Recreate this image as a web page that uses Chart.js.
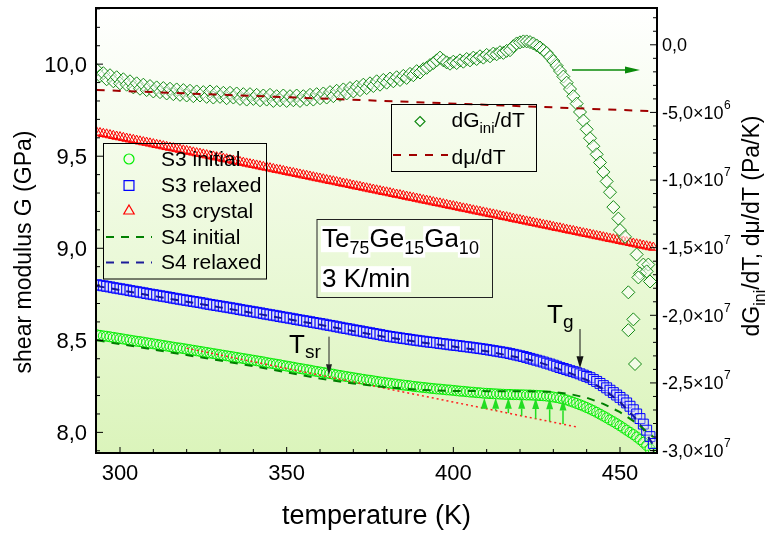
<!DOCTYPE html>
<html><head><meta charset="utf-8">
<script src="https://cdn.jsdelivr.net/npm/chart.js@4.4.0/dist/chart.umd.min.js"></script>
<style>html,body{margin:0;padding:0;background:#fff}canvas{display:block}</style>
</head><body>
<canvas id="c" width="770" height="533"></canvas>
<script>
// ---------------- data ----------------
const temperature = [293,294,295,296,297,298,299,300,
301,302,303,304,305,306,307,308,309,310,311,312,313,314,315,316,317,318,319,320,
321,322,323,324,325,326,327,328,329,330,331,332,333,334,335,336,337,338,339,340,
341,342,343,344,345,346,347,348,349,350,351,352,353,354,355,356,357,358,359,360,
361,362,363,364,365,366,367,368,369,370,371,372,373,374,375,376,377,378,379,380,
381,382,383,384,385,386,387,388,389,390,391,392,393,394,395,396,397,398,399,400,
401,402,403,404,405,406,407,408,409,410,411,412,413,414,415,416,417,418,419,420,
421,422,423,424,425,426,427,428,429,430,431,432,433,434,435,436,437,438,439,440,
441,442,443,444,445,446,447,448,449,450,451,452,453,454,455,456,457,458,459,460];

const s3Initial = [8.530,8.527,8.524,8.522,8.519,8.516,8.513,8.510,
8.507,8.504,8.501,8.498,8.495,8.493,8.490,8.487,8.484,8.481,
8.478,8.475,8.472,8.469,8.466,8.463,8.460,8.458,8.455,8.452,
8.449,8.446,8.443,8.440,8.437,8.434,8.431,8.428,8.425,8.422,
8.419,8.416,8.413,8.410,8.407,8.404,8.401,8.398,8.395,8.392,
8.389,8.386,8.383,8.379,8.376,8.373,8.370,8.367,8.363,8.360,
8.357,8.354,8.350,8.347,8.344,8.341,8.338,8.334,8.331,8.328,
8.325,8.322,8.319,8.316,8.312,8.309,8.306,8.303,8.300,8.297,
8.294,8.291,8.288,8.285,8.283,8.280,8.277,8.274,8.272,8.269,
8.267,8.264,8.262,8.259,8.257,8.255,8.253,8.250,8.248,8.246,
8.244,8.242,8.240,8.238,8.236,8.235,8.233,8.231,8.230,8.228,
8.226,8.224,8.223,8.221,8.219,8.218,8.216,8.215,8.213,8.212,
8.211,8.210,8.209,8.208,8.207,8.206,8.206,8.205,8.205,8.204,
8.204,8.203,8.203,8.202,8.201,8.200,8.199,8.197,8.195,8.192,
8.189,8.185,8.181,8.176,8.170,8.164,8.157,8.150,8.143,8.135,
8.127,8.118,8.109,8.099,8.089,8.079,8.068,8.058,8.047,8.036,
8.024,8.012,8.000,7.988,7.975,7.961,7.946,7.929,7.910,7.889];

const s3Relaxed = [8.802,8.799,8.796,8.793,8.790,8.786,8.783,8.780,
8.777,8.774,8.770,8.767,8.764,8.761,8.758,8.754,8.751,8.748,
8.745,8.742,8.739,8.736,8.733,8.729,8.726,8.723,8.720,8.717,
8.714,8.711,8.708,8.705,8.702,8.698,8.695,8.692,8.689,8.686,
8.683,8.680,8.677,8.674,8.671,8.667,8.664,8.661,8.658,8.655,
8.652,8.649,8.645,8.642,8.639,8.636,8.633,8.629,8.626,8.623,
8.620,8.617,8.613,8.610,8.607,8.604,8.601,8.597,8.594,8.591,
8.588,8.584,8.581,8.578,8.574,8.571,8.567,8.564,8.561,8.557,
8.554,8.551,8.547,8.544,8.541,8.537,8.534,8.531,8.527,8.524,
8.521,8.518,8.516,8.513,8.510,8.508,8.505,8.502,8.500,8.497,
8.495,8.492,8.490,8.488,8.486,8.483,8.481,8.479,8.476,8.474,
8.472,8.470,8.467,8.465,8.463,8.460,8.458,8.455,8.453,8.450,
8.447,8.444,8.441,8.438,8.435,8.432,8.428,8.424,8.420,8.416,
8.412,8.407,8.402,8.397,8.392,8.387,8.382,8.376,8.371,8.365,
8.359,8.352,8.347,8.341,8.335,8.330,8.324,8.318,8.311,8.304,
8.297,8.287,8.277,8.266,8.254,8.242,8.229,8.216,8.203,8.190,
8.176,8.160,8.142,8.123,8.100,8.075,8.045,8.012,7.977,7.940];

const s3Crystal = [9.630,9.626,9.622,9.619,9.615,9.611,9.607,9.604,
9.600,9.596,9.592,9.589,9.585,9.581,9.577,9.574,9.570,9.566,
9.562,9.559,9.555,9.551,9.547,9.544,9.540,9.536,9.532,9.529,
9.525,9.521,9.517,9.514,9.510,9.506,9.502,9.499,9.495,9.491,
9.487,9.484,9.480,9.476,9.472,9.469,9.465,9.461,9.457,9.454,
9.450,9.446,9.442,9.439,9.435,9.431,9.427,9.424,9.420,9.416,
9.412,9.409,9.405,9.401,9.397,9.394,9.390,9.386,9.382,9.379,
9.375,9.371,9.367,9.364,9.360,9.356,9.352,9.349,9.345,9.341,
9.337,9.334,9.330,9.326,9.322,9.319,9.315,9.311,9.307,9.304,
9.300,9.296,9.292,9.289,9.285,9.281,9.277,9.274,9.270,9.266,
9.262,9.259,9.255,9.251,9.247,9.244,9.240,9.236,9.232,9.229,
9.225,9.221,9.217,9.214,9.210,9.206,9.202,9.199,9.195,9.191,
9.187,9.184,9.180,9.176,9.172,9.169,9.165,9.161,9.157,9.154,
9.150,9.146,9.142,9.139,9.135,9.131,9.127,9.124,9.120,9.116,
9.112,9.109,9.105,9.101,9.097,9.094,9.090,9.086,9.082,9.079,
9.075,9.071,9.067,9.064,9.060,9.056,9.052,9.049,9.045,9.041,
9.037,9.034,9.030,9.026,9.022,9.019,9.015,9.011,9.007,9.004];

const s4InitTemp = [293,300,310,320,330,340,346,350,360,370,380,390,400,410,420,430,435,440,445,450,455,460];
const s4Initial  = [8.500,8.480,8.450,8.420,8.390,8.360,8.340,8.326,8.292,8.266,8.245,8.231,8.225,8.224,8.224,8.220,8.208,8.188,8.155,8.110,8.050,7.975];

const s4RelTemp = [293,300,310,320,330,340,350,360,370,380,390,400,410,420,425,430,435,440,445,450,455,458,460];
const s4Relaxed = [8.795,8.773,8.741,8.710,8.679,8.648,8.616,8.584,8.550,8.517,8.490,8.466,8.441,8.405,8.385,8.355,8.322,8.285,8.235,8.165,8.070,7.990,7.930];

const fitTemp = [320, 437.4];
const fitG    = [8.457, 8.028];

// dG_ini/dT in units of 10^6 Pa/K
const dgTemp = [293,294,295,296,297,298,299,300,301,302,303,304,305,306,307,308,309,310,
311,312,313,314,315,316,317,318,319,320,321,322,323,324,325,326,327,328,329,330,
331,332,333,334,335,336,337,338,339,340,341,342,343,344,345,346,347,348,349,350,
351,352,353,354,355,356,357,358,359,360,361,362,363,364,365,366,367,368,369,370,
371,372,373,374,375,376,377,378,379,380,381,382,383,384,385,386,387,388,389,390,
391,392,393,394,395,396,397,398,399,400,401,402,403,404,405,406,407,408,409,410,
411,412,413,414,415,416,417,418,419,420,421,422,423,424,425,426,427,428,429,430,
431,432,433,434,435,436,437,438,439,440,441,442,443,444,445,446,447,448,449.5,450,
451.5,455,457,458.5,456,458,459,455.5,452.5,454,452.5,454.5];
const dgValue = [-1.85,-2.30,-2.10,-2.55,-2.25,-2.70,-2.40,-2.85,-2.55,-2.95,-2.70,-3.15,-2.85,-3.25,-2.95,-3.35,-3.05,-3.45,
-3.15,-3.50,-3.20,-3.60,-3.25,-3.65,-3.30,-3.70,-3.35,-3.75,-3.40,-3.80,-3.45,-3.75,-3.50,-3.85,-3.45,-3.90,-3.50,-3.85,
-3.55,-3.95,-3.55,-3.90,-3.60,-4.00,-3.65,-4.05,-3.65,-4.00,-3.70,-4.10,-3.75,-4.05,-3.70,-4.15,-3.80,-4.10,-3.75,-4.15,
-3.80,-4.10,-3.75,-4.15,-3.80,-4.05,-3.70,-4.05,-3.65,-3.95,-3.60,-3.90,-3.50,-3.80,-3.40,-3.70,-3.30,-3.60,-3.20,-3.45,
-3.10,-3.35,-2.95,-3.20,-2.85,-3.05,-2.70,-2.95,-2.60,-2.80,-2.50,-2.70,-2.40,-2.60,-2.30,-2.45,-2.15,-2.25,-1.95,-2.05,
-1.80,-1.70,-1.50,-1.35,-1.15,-0.95,-1.15,-1.30,-1.40,-1.25,-1.35,-1.15,-1.25,-1.05,-1.15,-0.95,-1.05,-0.85,-0.95,-0.75,
-0.85,-0.65,-0.70,-0.55,-0.60,-0.45,-0.40,-0.10,0.10,0.18,0.25,0.25,0.20,0.10,-0.05,-0.20,-0.40,-0.60,-0.90,-1.20,
-1.55,-1.94,-2.35,-2.80,-3.27,-3.80,-4.35,-4.97,-5.60,-6.25,-6.91,-7.50,-8.10,-8.70,-9.40,-10.10,-10.90,-12.00,-12.85,-13.70,
-14.20,-15.50,-16.25,-16.25,-16.90,-16.75,-17.50,-17.20,-18.30,-20.30,-21.10,-23.60];

// dmu/dT in units of 10^6 Pa/K
const dmuTemp  = [293, 461];
const dmuValue = [-3.34, -4.92];

// green arrows (initial vs. extrapolation)
const arrowTemp = [409.3,412.7,416.5,420.5,424.7,428.9,432.9];
const arrowBase = [8.131,8.119,8.105,8.090,8.075,8.059,8.045];
const arrowTip  = [8.188,8.188,8.188,8.188,8.187,8.185,8.178];

// ticks
const xTicks = [300,350,400,450];
const xTickText = ['300','350','400','450'];
const yTicks = [8.0,8.5,9.0,9.5,10.0];
const yTickText = ['8,0','8,5','9,0','9,5','10,0'];
const y2Ticks = [0,-5,-10,-15,-20,-25,-30];
const y2TickText = ['0,0','-5,0\u00d710','-1,0\u00d710','-1,5\u00d710','-2,0\u00d710','-2,5\u00d710','-3,0\u00d710'];
const y2TickExp  = ['','6','7','7','7','7','7'];

// ---------------- chart ----------------
const FONT = "'Liberation Sans', Arial, Helvetica, sans-serif";
const pts = (xs, ys) => xs.map((x, i) => ({x, y: ys[i]}));

function arrow(ctx, x1, y1, x2, y2, hl, hw, color, lw) {
  const a = Math.atan2(y2 - y1, x2 - x1);
  const bx = x2 - hl * Math.cos(a), by = y2 - hl * Math.sin(a);
  ctx.save();
  ctx.strokeStyle = color; ctx.fillStyle = color; ctx.lineWidth = lw;
  ctx.beginPath(); ctx.moveTo(x1, y1); ctx.lineTo(bx, by); ctx.stroke();
  ctx.beginPath();
  ctx.moveTo(x2, y2);
  ctx.lineTo(bx + hw * Math.sin(a), by - hw * Math.cos(a));
  ctx.lineTo(bx - hw * Math.sin(a), by + hw * Math.cos(a));
  ctx.closePath(); ctx.fill();
  ctx.restore();
}

function richText(ctx, runs, x, y, measureOnly) {
  let cx = x;
  runs.forEach(r => {
    ctx.font = r.s + 'px ' + FONT;
    const w = ctx.measureText(r.t).width;
    if (!measureOnly) {
      if (r.bg) {
        ctx.fillStyle = r.bg;
        ctx.fillRect(cx - 1, y + (r.dy || 0) - r.s * 0.80, w + 2, r.s * 1.0);
      }
      ctx.fillStyle = '#000';
      ctx.fillText(r.t, cx, y + (r.dy || 0));
    }
    cx += w;
  });
  return cx - x;
}

function symbol(ctx, style, x, y, r, stroke, fill, lw) {
  ctx.save();
  ctx.strokeStyle = stroke; ctx.fillStyle = fill; ctx.lineWidth = lw;
  ctx.beginPath();
  if (style === 'circle') ctx.arc(x, y, r, 0, Math.PI * 2);
  else if (style === 'rect') { const s = r * Math.SQRT1_2; ctx.rect(x - s, y - s, 2 * s, 2 * s); }
  else if (style === 'triangle') {
    ctx.moveTo(x, y - r);
    ctx.lineTo(x + r * 0.866, y + r * 0.5);
    ctx.lineTo(x - r * 0.866, y + r * 0.5);
    ctx.closePath();
  } else if (style === 'diamond') {
    ctx.moveTo(x, y - r); ctx.lineTo(x + r, y); ctx.lineTo(x, y + r); ctx.lineTo(x - r, y); ctx.closePath();
  }
  ctx.fill(); ctx.stroke();
  ctx.restore();
}

function dashLine(ctx, x1, x2, y, color, dash) {
  ctx.save(); ctx.strokeStyle = color; ctx.lineWidth = 2; ctx.setLineDash(dash);
  ctx.beginPath(); ctx.moveTo(x1, y); ctx.lineTo(x2, y); ctx.stroke(); ctx.restore();
}

const bgPlugin = {
  id: 'bg',
  beforeDraw(chart) {
    const {ctx, chartArea: a} = chart;
    const g = ctx.createLinearGradient(0, a.top, 0, a.bottom);
    g.addColorStop(0, '#ffffff');
    g.addColorStop(1, '#dbf4bb');
    ctx.save(); ctx.fillStyle = g;
    ctx.fillRect(a.left, a.top, a.right - a.left, a.bottom - a.top);
    ctx.restore();
  }
};

const decoPlugin = {
  id: 'deco',
  afterDatasetsDraw(chart) {
    const {ctx, chartArea: a, scales: {x, y, y2}} = chart;

    arrowTemp.forEach((t, i) => {
      const px = x.getPixelForValue(t);
      arrow(ctx, px, y.getPixelForValue(arrowBase[i]), px, y.getPixelForValue(arrowTip[i]), 11, 3.5, '#22dd22', 1.5);
    });

    const tsr = x.getPixelForValue(362.7);
    arrow(ctx, tsr, y.getPixelForValue(8.52), tsr, y.getPixelForValue(8.31), 11, 3, '#222', 1);
    const tg = x.getPixelForValue(438);
    arrow(ctx, tg, y.getPixelForValue(8.561), tg, y.getPixelForValue(8.348), 12, 3.5, '#111', 1);
    ctx.textBaseline = 'alphabetic'; ctx.textAlign = 'left';
    richText(ctx, [{t: 'T', s: 26}, {t: 'sr', s: 19, dy: 5}], 289, 353);
    richText(ctx, [{t: 'T', s: 26}, {t: 'g', s: 19, dy: 5}], 547, 323);

    arrow(ctx, 572, 70, 640, 70, 15, 3.5, '#0a8a0a', 1.6);

    // frame + inward ticks
    ctx.save();
    ctx.strokeStyle = '#000'; ctx.lineWidth = 1;
    const tick = (x1, y1, x2, y2) => { ctx.beginPath(); ctx.moveTo(x1, y1); ctx.lineTo(x2, y2); ctx.stroke(); };
    for (let t = 300; t <= 460; t += 10) {
      const p = x.getPixelForValue(t);
      tick(p, a.bottom, p, a.bottom - (t % 50 === 0 ? 6 : 4));
    }
    for (let k = 79; k <= 103; k++) {
      const p = y.getPixelForValue(k / 10);
      if (p < a.top || p > a.bottom) continue;
      tick(a.left, p, a.left + (k % 5 === 0 ? 7 : 4), p);
    }
    for (let v = 2; v >= -30; v--) {
      const p = y2.getPixelForValue(v);
      if (p < a.top || p > a.bottom) continue;
      tick(a.right, p, a.right - (v % 5 === 0 ? 7 : 4), p);
    }
    ctx.lineWidth = 2;
    ctx.strokeRect(a.left, a.top, a.right - a.left, a.bottom - a.top);
    ctx.restore();

    // tick labels
    ctx.save();
    ctx.fillStyle = '#000'; ctx.textBaseline = 'alphabetic';
    ctx.font = '22px ' + FONT; ctx.textAlign = 'center';
    xTicks.forEach((v, i) => ctx.fillText(xTickText[i], x.getPixelForValue(v), 480));
    ctx.textAlign = 'right';
    yTicks.forEach((v, i) => ctx.fillText(yTickText[i], 87, y.getPixelForValue(v) + 8));
    ctx.textAlign = 'left';
    y2Ticks.forEach((v, i) => {
      const p = y2.getPixelForValue(v);
      ctx.font = '18px ' + FONT;
      ctx.fillText(y2TickText[i], a.right + 5, p + 6.4);
      const w = ctx.measureText(y2TickText[i]).width;
      if (y2TickExp[i]) {
        ctx.font = '12px ' + FONT;
        ctx.fillText(y2TickExp[i], a.right + 5 + w + 0.5, p - 3.6);
      }
    });
    ctx.restore();

    // axis titles
    ctx.save();
    ctx.fillStyle = '#000'; ctx.textBaseline = 'alphabetic'; ctx.textAlign = 'left';
    ctx.font = '27px ' + FONT;
    const xt = 'temperature (K)';
    const xw = ctx.measureText(xt).width;
    ctx.fillText(xt, (a.left + a.right) / 2 - xw / 2, 524);

    ctx.translate(31, 252); ctx.rotate(-Math.PI / 2);
    ctx.font = '23px ' + FONT;
    const lt = 'shear modulus G (GPa)';
    ctx.fillText(lt, -ctx.measureText(lt).width / 2, 0);
    ctx.restore();

    ctx.save();
    ctx.translate(759, 226); ctx.rotate(-Math.PI / 2);
    const rr = [{t: 'dG', s: 23}, {t: 'ini', s: 16, dy: 6}, {t: '/dT, d\u03bc/dT (Pa/K)', s: 23}];
    const rw = richText(ctx, rr, 0, 0, true);
    richText(ctx, rr, -rw / 2, 0);
    ctx.restore();

    // legend 1
    ctx.save();
    ctx.strokeStyle = '#000'; ctx.lineWidth = 1;
    ctx.strokeRect(103.5, 143.5, 163, 135.5);
    const rows = [159, 185.5, 211, 237, 262.5];
    symbol(ctx, 'circle', 129, rows[0], 5, '#00ee00', 'rgba(0,0,0,0)', 1.2);
    symbol(ctx, 'rect', 129, rows[1], 7, '#0000ff', 'rgba(0,0,0,0)', 1.2);
    symbol(ctx, 'triangle', 129, rows[2], 6, '#ff0000', 'rgba(0,0,0,0)', 1.2);
    dashLine(ctx, 106, 152, rows[3], '#008000', [8, 7]);
    dashLine(ctx, 106, 152, rows[4], '#1c1c99', [8, 7]);
    ctx.fillStyle = '#000'; ctx.font = '21px ' + FONT; ctx.textBaseline = 'middle';
    ['S3 initial', 'S3 relaxed', 'S3 crystal', 'S4 initial', 'S4 relaxed'].forEach((t, i) => ctx.fillText(t, 161, rows[i] + 1));
    ctx.restore();

    // legend 2
    ctx.save();
    ctx.strokeStyle = '#000'; ctx.lineWidth = 1;
    ctx.strokeRect(391.5, 104.5, 145, 67);
    symbol(ctx, 'diamond', 420, 121.5, 5, '#138a13', 'rgba(255,255,255,0.6)', 1.2);
    dashLine(ctx, 393, 448, 155, '#a00000', [8, 8]);
    ctx.textBaseline = 'alphabetic';
    richText(ctx, [{t: 'dG', s: 21}, {t: 'ini', s: 15, dy: 6}, {t: '/dT', s: 21}], 451.5, 127);
    richText(ctx, [{t: 'd\u03bc/dT', s: 21}], 451.5, 163.5);
    ctx.restore();

    // composition box
    ctx.save();
    ctx.strokeStyle = '#222'; ctx.lineWidth = 1;
    ctx.strokeRect(317, 219.5, 175.5, 78);
    const wbg = '#ffffff';
    richText(ctx, [{t: 'Te', s: 26, bg: wbg}, {t: '75', s: 18, dy: 7, bg: wbg}, {t: 'Ge', s: 26, bg: wbg},
      {t: '15', s: 18, dy: 7, bg: wbg}, {t: 'Ga', s: 26, bg: wbg}, {t: '10', s: 18, dy: 7, bg: wbg}], 322, 247);
    richText(ctx, [{t: '3 K/min', s: 26, bg: wbg}], 322, 287);
    ctx.restore();
  }
};

new Chart(document.getElementById('c'), {
  type: 'scatter',
  data: {
    datasets: [
      {label: 'S4 initial', data: pts(s4InitTemp, s4Initial), showLine: true, pointRadius: 0,
       borderColor: '#007f00', borderWidth: 2, borderDash: [8, 7], yAxisID: 'y', order: 0},
      {label: 'S4 relaxed', data: pts(s4RelTemp, s4Relaxed), showLine: true, pointRadius: 0,
       borderColor: '#15159a', borderWidth: 2, borderDash: [8, 7], yAxisID: 'y', order: 1},
      {label: 'extrapolation', data: pts(fitTemp, fitG), showLine: true, pointRadius: 0,
       borderColor: '#ff2020', borderWidth: 1.5, borderDash: [2, 3], yAxisID: 'y', order: 2},
      {label: 'S3 relaxed', data: pts(temperature, s3Relaxed), pointStyle: 'rect', pointRadius: 7,
       borderColor: '#0000ff', backgroundColor: 'rgba(220,220,255,0.35)', borderWidth: 1, yAxisID: 'y', order: 3},
      {label: 'S3 initial', data: pts(temperature, s3Initial), pointStyle: 'circle', pointRadius: 5,
       borderColor: '#00ee00', backgroundColor: 'rgba(255,255,255,0.1)', borderWidth: 1, yAxisID: 'y', order: 4},
      {label: 'dmu/dT', data: pts(dmuTemp, dmuValue), showLine: true, pointRadius: 0,
       borderColor: '#a00000', borderWidth: 2, borderDash: [8, 8], yAxisID: 'y2', order: 5},
      {label: 'dGini/dT', data: pts(dgTemp, dgValue), pointStyle: 'rectRot', pointRadius: 6.5,
       borderColor: '#138a13', backgroundColor: 'rgba(255,255,255,0.55)', borderWidth: 1, yAxisID: 'y2', order: 6},
      {label: 'S3 crystal', data: pts(temperature, s3Crystal), pointStyle: 'triangle', pointRadius: 5.5,
       borderColor: '#ff0000', backgroundColor: 'rgba(0,0,0,0)', borderWidth: 1, yAxisID: 'y', order: 7}
    ]
  },
  options: {
    responsive: false, animation: false, devicePixelRatio: 1, events: [],
    layout: {padding: {top: 1, left: 96, right: 113, bottom: 80}},
    plugins: {legend: {display: false}, tooltip: {enabled: false}},
    scales: {
      x: {type: 'linear', position: 'bottom', min: 292.8, max: 461.1, display: false},
      y: {type: 'linear', position: 'left', min: 7.888, max: 10.305, display: false},
      y2: {type: 'linear', position: 'right', min: -30.18, max: 2.72, display: false}
    }
  },
  plugins: [bgPlugin, decoPlugin]
});
</script>
</body></html>
